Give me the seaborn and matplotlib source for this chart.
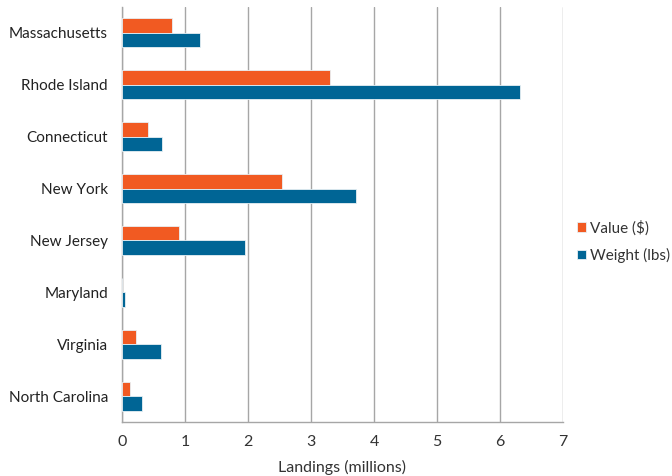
import matplotlib
matplotlib.use("Agg")
import matplotlib.pyplot as plt
import seaborn as sns
import pandas as pd
import numpy as np

states = ["Massachusetts", "Rhode Island", "Connecticut", "New York",
          "New Jersey", "Maryland", "Virginia", "North Carolina"]
value_usd = [0.80, 3.30, 0.41, 2.54, 0.905, 0.005, 0.23, 0.12]
weight_lbs = [1.24, 6.32, 0.64, 3.72, 1.96, 0.05, 0.62, 0.31]
series = ["Value ($)", "Weight (lbs)"]
xticks = [0, 1, 2, 3, 4, 5, 6, 7]

df = pd.DataFrame({
    "State": states * 2,
    "Series": [series[0]] * len(states) + [series[1]] * len(states),
    "Landings": value_usd + weight_lbs,
})

sns.set_style("white")
plt.rcParams["font.family"] = ["Lato", "DejaVu Sans"]

fig = plt.figure(figsize=(6.72, 4.76), dpi=100)
ax = fig.add_axes([122 / 672, 1 - 422 / 476, (563 - 122) / 672, (422 - 7) / 476])

sns.barplot(data=df, y="State", x="Landings", hue="Series", order=states,
            hue_order=series, palette=["#F15A22", "#006595"], saturation=1,
            orient="h", width=0.56, edgecolor="#e8f0f4", linewidth=0.6,
            ax=ax, zorder=3)

FS = 11
ax.set_xlim(0, 7)
ax.set_ylim(len(states) - 0.5, -0.5)
ax.set_xticks(xticks)
ax.set_xticklabels([str(t) for t in xticks], fontsize=FS + 0.5, color="#333333")
ax.xaxis.grid(True, color="#a6a6a6", linewidth=1.0, zorder=0)
ax.set_axisbelow(True)
ax.set_xlabel("Landings (millions)", fontsize=FS + 0.5, color="#333333", labelpad=8)
ax.set_ylabel("")
ax.set_yticks(range(len(states)))
ax.set_yticklabels(states, fontsize=FS, color="#222222")
ax.set_yticks(np.arange(-0.5, len(states), 1), minor=True)
ax.tick_params(axis="y", which="major", length=0, pad=10)
ax.tick_params(axis="y", which="minor", length=4, color="#a6a6a6", direction="out", width=1)
ax.tick_params(axis="x", which="major", length=4, color="#a6a6a6", direction="out", width=1, pad=5)

for s in ["top", "right"]:
    ax.spines[s].set_visible(False)
for s in ["left", "bottom"]:
    ax.spines[s].set_color("#a6a6a6")
    ax.spines[s].set_linewidth(1.0)

leg = ax.legend(loc="center left", bbox_to_anchor=(1.0, 0.435), frameon=False,
                fontsize=FS, handlelength=0.6, handleheight=0.6, handletextpad=0.3,
                labelspacing=0.8, borderaxespad=0.5)
for t in leg.get_texts():
    t.set_color("#333333")

fig.savefig("out.png", dpi=100)
